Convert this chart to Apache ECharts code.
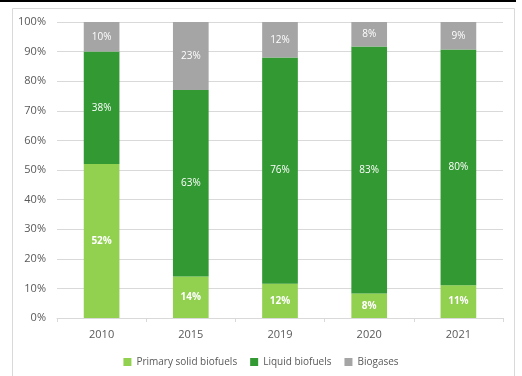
<!DOCTYPE html>
<html>
<head>
<meta charset="utf-8">
<script src="https://cdn.jsdelivr.net/npm/echarts@6/dist/echarts.min.js"></script>
<style>
  html, body { margin: 0; padding: 0; background: #fff; }
  #chart { width: 522px; height: 376px; }
</style>
</head>
<body>
<div id="chart"></div>
<script>
// categories and shares (percent)
const years = ['2010', '2015', '2019', '2020', '2021'];
const primarySolid = [52, 14, 11.6, 8.3, 11.1];
const liquid = [38, 63, 76.4, 83.4, 79.6];
const biogases = [10, 23, 12, 8.3, 9.3];

const chart = echarts.init(document.getElementById('chart'));
const font = '"Open Sans", "Liberation Sans", sans-serif';

function pct(p) { return Math.round(p.value) + '%'; }

function barSeries(name, data, color, labelColor, bold) {
  return {
    name: name,
    type: 'bar',
    stack: 'total',
    barWidth: '40%',
    data: data,
    itemStyle: { color: color },
    label: {
      show: true,
      position: 'inside',
      formatter: pct,
      color: labelColor,
      fontSize: 10,
      fontFamily: font,
      fontWeight: bold ? 'bold' : 'normal'
    }
  };
}

chart.setOption({
  animation: false,
  textStyle: { fontFamily: font },
  graphic: [
    // thin black rule at the very top
    { type: 'line', shape: { x1: 0, y1: 1, x2: 516, y2: 1 }, style: { stroke: '#000', lineWidth: 2 } },
    // light chart-area frame
    { type: 'rect', shape: { x: 12.5, y: 8.5, width: 502, height: 380 }, style: { fill: 'none', stroke: '#d9d9d9', lineWidth: 1 } }
  ],
  grid: { left: 57, right: 19, top: 22, bottom: 58 },
  legend: {
    bottom: 10,
    left: 'center',
    top: 352,
    itemWidth: 8,
    itemHeight: 8,
    itemGap: 13,
    icon: 'rect',
    textStyle: { color: '#595959', fontSize: 10, fontFamily: font },
    data: ['Primary solid biofuels', 'Liquid biofuels', 'Biogases']
  },
  xAxis: {
    type: 'category',
    data: years,
    axisLine: { lineStyle: { color: '#d9d9d9' } },
    axisTick: { show: true, length: 4, lineStyle: { color: '#d9d9d9' } },
    axisLabel: { color: '#595959', fontSize: 11, margin: 11 }
  },
  yAxis: {
    type: 'value',
    min: 0,
    max: 100,
    interval: 10,
    axisLine: { show: false },
    axisTick: { show: false },
    splitLine: { lineStyle: { color: '#d9d9d9' } },
    axisLabel: { color: '#595959', fontSize: 11, margin: 11, formatter: '{value}%' }
  },
  series: [
    barSeries('Primary solid biofuels', primarySolid, '#92d050', '#fff', true),
    barSeries('Liquid biofuels', liquid, '#339933', '#fff', false),
    barSeries('Biogases', biogases, '#a5a5a5', '#fff', false)
  ]
});
</script>
</body>
</html>
